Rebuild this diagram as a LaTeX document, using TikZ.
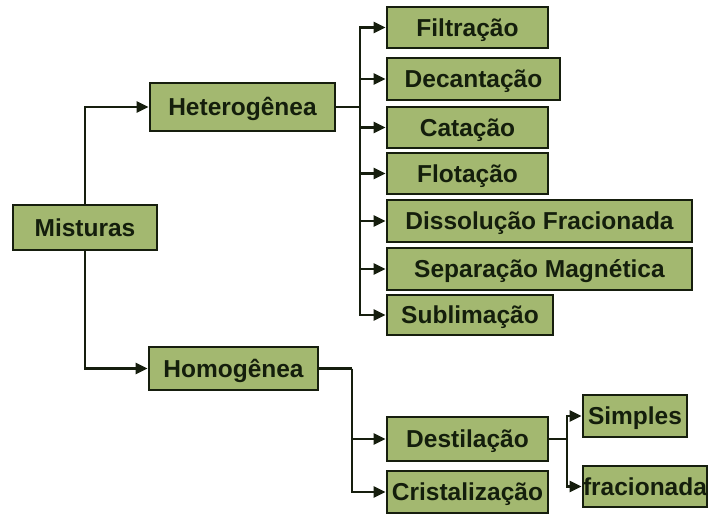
\documentclass[tikz,border=0pt]{standalone}
\usepackage{fontspec}
\setmainfont{Liberation Sans}
\usetikzlibrary{arrows.meta}
\definecolor{boxfill}{RGB}{163,184,112}
\definecolor{boxline}{RGB}{22,30,14}
\definecolor{txt}{RGB}{20,30,12}
\begin{document}
\begin{tikzpicture}[x=1pt,y=-1pt,
  box/.style={draw=boxline,line width=2.8pt,fill=boxfill,inner sep=0pt,
    text height=17.5pt,text depth=0pt,
    font=\fontsize{24.5}{28}\selectfont\bfseries,text=txt,anchor=center},
  conn/.style={draw=boxline,line width=2.6pt},
  arr/.style={conn,-{Triangle[length=12pt,width=11pt]}}]
\useasboundingbox (0,0) rectangle (709,517);
\fill[white] (0,0) rectangle (709,517);
% nodes
\node[box,minimum width=144pt,minimum height=45pt] (mist) at (85,227.5) {Misturas};
\node[box,minimum width=185pt,minimum height=48pt] (het) at (242.5,107) {Heterogênea};
\node[box,minimum width=169pt,minimum height=43pt] (hom) at (233.5,368.5) {Homogênea};
\node[box,minimum width=161pt,minimum height=41pt] (filt) at (467.5,27.5) {Filtração};
\node[box,minimum width=173pt,minimum height=42pt] (dec) at (473.5,79) {Decantação};
\node[box,minimum width=161pt,minimum height=41pt] (cat) at (467.5,127.5) {Catação};
\node[box,minimum width=161pt,minimum height=41pt] (flo) at (467.5,173.5) {Flotação};
\node[box,minimum width=305pt,minimum height=42pt] (dis) at (539.5,221) {Dissolução Fracionada};
\node[box,minimum width=305pt,minimum height=42pt] (sep) at (539.5,269) {Separação Magnética};
\node[box,minimum width=166pt,minimum height=40pt] (sub) at (470,315) {Sublimação};
\node[box,minimum width=161pt,minimum height=44pt] (dest) at (467.5,439) {Destilação};
\node[box,minimum width=161pt,minimum height=42pt] (cris) at (467.5,492) {Cristalização};
\node[box,minimum width=104pt,minimum height=42pt] (simp) at (635,416) {Simples};
\node[box,minimum width=124pt,minimum height=41pt] (frac) at (645,486.5) {fracionada};
% junctions
\coordinate (hx) at (360,107);
\coordinate (mx) at (352,368.5);
\coordinate (dx) at (567,439);
% connectors
\draw[arr] (mist.north) |- (het.west);
\draw[arr] (mist.south) |- (hom.west);
\draw[conn] (het.east) -- (hx);
\foreach \n in {filt,dec,cat,flo,dis,sep,sub} \draw[arr] (hx) |- (\n.west);
\draw[conn] (hom.east) -- (mx);
\draw[arr] (mx) |- (dest.west);
\draw[arr] (mx) |- (cris.west);
\draw[conn] (dest.east) -- (dx);
\draw[arr] (dx) |- (simp.west);
\draw[arr] (dx) |- (frac.west);
\end{tikzpicture}
\end{document}
